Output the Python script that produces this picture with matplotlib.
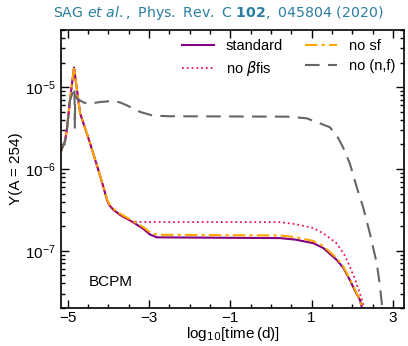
import numpy as np
import matplotlib
matplotlib.use("Agg")
import matplotlib.pyplot as plt
from matplotlib.ticker import MultipleLocator, LogLocator, NullFormatter

plt.rcParams['font.family'] = ['Liberation Sans', 'DejaVu Sans']
plt.rcParams['mathtext.fontset'] = 'dejavusans'

# log10(time/d) and Y values
t_std = [-5.16, -5.06, -5.01, -4.94, -4.84, -4.69, -4.45, -4.2, -4.1, -4.03, -3.97,
         -3.88, -3.71, -3.39, -3.14, -2.97, -2.8, 0.22, 0.6, 1.04, 1.29, 1.61, 1.78,
         1.94, 2.06, 2.19, 2.26]
y_std = [1.66e-6, 2.2e-6, 3.2e-6, 6.9e-6, 1.74e-5, 4.8e-6, 2.1e-6, 8.3e-7, 5.6e-7,
         4.2e-7, 3.6e-7, 3.2e-7, 2.75e-7, 2.24e-7, 1.86e-7, 1.58e-7, 1.46e-7, 1.43e-7,
         1.37e-7, 1.24e-7, 1.08e-7, 7.8e-8, 6.2e-8, 4.4e-8, 3.3e-8, 2.5e-8, 1.8e-8]

t_nosf = [-5.16, -5.06, -5.01, -4.94, -4.84, -4.69, -4.45, -4.2, -4.1, -4.03, -3.97,
          -3.88, -3.71, -3.39, -3.14, -2.97, -2.8, 0.22, 0.6, 1.04, 1.29, 1.61, 1.78,
          1.94, 2.06, 2.19, 2.26]
y_nosf = [1.66e-6, 2.2e-6, 3.2e-6, 6.9e-6, 1.74e-5, 4.8e-6, 2.1e-6, 8.3e-7, 5.7e-7,
          4.3e-7, 3.7e-7, 3.3e-7, 2.85e-7, 2.3e-7, 1.95e-7, 1.68e-7, 1.57e-7, 1.54e-7,
          1.47e-7, 1.32e-7, 1.14e-7, 8.2e-8, 6.4e-8, 4.5e-8, 3.4e-8, 2.5e-8, 1.8e-8]

t_nobfis = [-5.16, -5.06, -5.01, -4.94, -4.84, -4.69, -4.45, -4.2, -4.1, -4.03, -3.97,
            -3.88, -3.71, -3.45, -3.3, 0.22, 0.6, 1.04, 1.3, 1.61, 1.8, 1.94, 2.06,
            2.19, 2.32]
y_nobfis = [1.66e-6, 2.2e-6, 3.2e-6, 6.9e-6, 1.74e-5, 4.8e-6, 2.1e-6, 8.3e-7, 5.6e-7,
            4.2e-7, 3.6e-7, 3.2e-7, 2.75e-7, 2.32e-7, 2.25e-7, 2.24e-7, 2.12e-7,
            1.9e-7, 1.62e-7, 1.24e-7, 9.1e-8, 6.4e-8, 4.6e-8, 3.0e-8, 1.8e-8]

t_nonf = [-5.16, -5.06, -5.01, -4.94, -4.83, -4.82, -4.81, -4.76, -4.6, -4.45, -4.2,
          -3.88, -3.7, -3.54, -3.22, -2.9, -2.5, 0.39, 0.6, 0.88, 1.2, 1.45, 1.62,
          1.77, 1.94, 2.11, 2.26, 2.43, 2.6, 2.67, 2.75]
y_nonf = [1.66e-6, 2.2e-6, 3.2e-6, 6.9e-6, 1.0e-5, 3.2e-6, 7.9e-6, 7.2e-6, 6.5e-6,
          6.3e-6, 6.6e-6, 6.8e-6, 6.5e-6, 6.0e-6, 5.0e-6, 4.5e-6, 4.42e-6, 4.37e-6,
          4.3e-6, 4.17e-6, 3.63e-6, 3.24e-6, 2.57e-6, 1.86e-6, 1.17e-6, 6.0e-7,
          3.5e-7, 1.66e-7, 7.1e-8, 4.1e-8, 1.8e-8]

fig = plt.figure(figsize=(4.08, 3.46), dpi=100)
ax = fig.add_axes([0.1495, 0.110, 0.8405, 0.803])

ax.plot(t_std, y_std, color='#800080', lw=1.5, label='standard')
ax.plot(t_nobfis, y_nobfis, color='#e8174b', lw=1.3, ls=':', label=r'no $\beta$fis')
ax.plot(t_nosf, y_nosf, color='#ffa500', lw=1.5, ls=(0, (6, 2, 1.5, 2)), label='no sf')
ax.plot(t_nonf, y_nonf, color='#666666', lw=1.5, ls=(0, (7, 4)), label='no (n,f)')

ax.set_yscale('log')
ax.set_xlim(-5.16, 3.27)
ax.set_ylim(2.0e-8, 5.0e-5)
ax.xaxis.set_minor_locator(MultipleLocator(0.5))
ax.yaxis.set_major_locator(LogLocator(base=10, numticks=10))
ax.yaxis.set_minor_locator(LogLocator(base=10, subs=np.arange(2, 10), numticks=20))
ax.yaxis.set_minor_formatter(NullFormatter())
ax.set_xticks([-5, -3, -1, 1, 3])
ax.set_xticklabels(['\u22125', '\u22123', '\u22121', '1', '3'])
ax.tick_params(which='both', direction='in', top=True, right=True, labelsize=11, width=1)
ax.tick_params(axis='x', pad=2)
ax.tick_params(which='major', length=6)
ax.tick_params(which='minor', length=3)
for s in ax.spines.values():
    s.set_linewidth(1.2)

ax.set_xlabel(r'log$_{10}$[time$\,$(d)]', fontsize=11, labelpad=0)
ax.set_ylabel(r'Y(A = 254)', fontsize=11, labelpad=2)
ax.text(0.08, 0.08, 'BCPM', transform=ax.transAxes, fontsize=11)
ax.legend(ncol=2, frameon=False, loc='upper right', fontsize=10.5,
          handlelength=2.2, columnspacing=1.5, borderaxespad=0.2, labelspacing=0.4)

fig.text(0.535, 0.963,
         r'$\mathrm{SAG}\ \mathit{et\ al.}\mathrm{,\ Phys.\ Rev.\ C}\ \mathbf{102}\mathrm{,\ 045804\ (2020)}$',
         ha='center', va='center', fontsize=10.2, color='#2a7ea0')

fig.savefig('out.png', dpi=100)
